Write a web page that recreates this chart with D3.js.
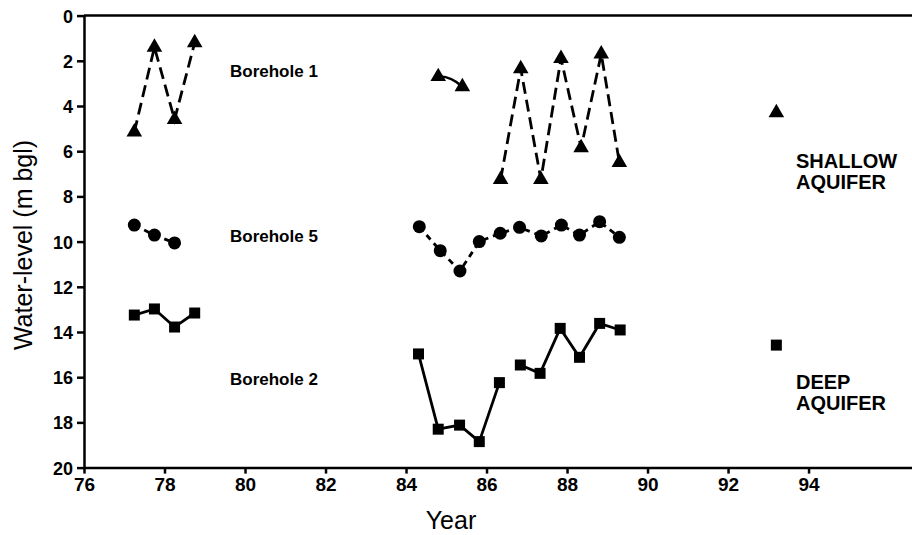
<!DOCTYPE html>
<html>
<head>
<meta charset="utf-8">
<script src="https://cdn.jsdelivr.net/npm/d3@7"></script>
<style>
  body { margin: 0; background: #fff; }
  svg { display: block; }
  .titulo { font-family: "Liberation Sans", Arial, sans-serif; font-size: 25px; fill: #000; }
  .etiqueta { font-family: "Liberation Sans", Arial, sans-serif; font-weight: bold; font-size: 17px; fill: #000; }
  .acuifero { font-family: "Liberation Sans", Arial, sans-serif; font-weight: bold; font-size: 20px; fill: #000; }
</style>
</head>
<body>
<div id="grafico"></div>
<script>
// Borehole 1 (shallow aquifer), triangles
var b1Years  = [77.25, 77.75, 78.25, 78.75, 84.8, 85.4, 86.35, 86.85, 87.35, 87.85, 88.35, 88.85, 89.3, 93.2];
var b1Levels = [5.15, 1.4, 4.6, 1.2, 2.7, 3.15, 7.25, 2.35, 7.25, 1.9, 5.85, 1.7, 6.5, 4.3];
var b1Runs   = [0, 0, 0, 0, 1, 1, 2, 2, 2, 2, 2, 2, 2, 3];

// Borehole 5, circles
var b5Years  = [77.25, 77.75, 78.25, 84.33, 84.85, 85.34, 85.82, 86.34, 86.82, 87.36, 87.86, 88.31, 88.81, 89.3];
var b5Levels = [9.27, 9.71, 10.06, 9.34, 10.4, 11.3, 10.0, 9.63, 9.37, 9.75, 9.27, 9.71, 9.12, 9.81];
var b5Runs   = [0, 0, 0, 1, 1, 1, 1, 1, 1, 1, 1, 1, 1, 1];

// Borehole 2 (deep aquifer), squares
var b2Years  = [77.25, 77.75, 78.25, 78.75, 84.31, 84.8, 85.33, 85.82, 86.32, 86.84, 87.33, 87.83, 88.31, 88.81, 89.32, 93.2];
var b2Levels = [13.25, 12.98, 13.78, 13.16, 14.97, 18.3, 18.12, 18.85, 16.24, 15.46, 15.83, 13.84, 15.12, 13.62, 13.91, 14.58];
var b2Runs   = [0, 0, 0, 0, 1, 1, 1, 1, 1, 2, 2, 2, 2, 2, 2, 3];

var xTicks = [76, 78, 80, 82, 84, 86, 88, 90, 92, 94];
var yTicks = [0, 2, 4, 6, 8, 10, 12, 14, 16, 18, 20];

var width = 912,
    height = 535;

var svg = d3.select("#grafico")
    .append("svg")
    .attr("width", width)
    .attr("height", height);

var x = d3.scaleLinear().domain([76, 96.57]).range([84, 912]);
var y = d3.scaleLinear().domain([0, 20]).range([15.6, 467.6]);

/************ Ejes ************/
function estiloEje(g, size) {
    g.selectAll("path, line").attr("stroke", "#000").attr("stroke-width", 2.5);
    g.selectAll("text")
        .style("font-family", "'Liberation Sans', Arial, sans-serif")
        .style("font-size", size + "px")
        .style("font-weight", "bold")
        .style("fill", "#000");
}

var ejeX = svg.append("g")
    .attr("transform", "translate(0," + y(20) + ")")
    .call(d3.axisBottom(x).tickValues(xTicks).tickSize(6).tickSizeOuter(0).tickPadding(2))
    .call(estiloEje, 19);
ejeX.selectAll("text").attr("dy", "0.8em");

var ejeY = svg.append("g")
    .attr("transform", "translate(" + x(76) + ",0)")
    .call(d3.axisLeft(y).tickValues(yTicks).tickSize(7).tickSizeOuter(0).tickPadding(4))
    .call(estiloEje, 18);
ejeY.selectAll("text").attr("dy", "0.36em");

// borde superior
svg.append("line")
    .attr("x1", x(76)).attr("x2", width)
    .attr("y1", y(0)).attr("y2", y(0))
    .attr("stroke", "#000").attr("stroke-width", 2.5);

/************ Series ************/
function juntar(years, levels, runs) {
    return years.map(function(d, i) { return {x: d, y: levels[i], run: runs[i]}; });
}

var linea = d3.line()
    .x(function(d) { return x(d.x); })
    .y(function(d) { return y(d.y); });

function dibujaSerie(datos, dash, curvas) {
    var grupos = d3.groups(datos, function(d) { return d.run; });
    grupos.forEach(function(g) {
        var pts = g[1];
        if (pts.length < 2) return;
        if (curvas.indexOf(g[0]) >= 0) {
            // tramo curvo continuo
            var p = d3.path();
            var a = pts[0], b = pts[1];
            p.moveTo(x(a.x), y(a.y));
            p.quadraticCurveTo((x(a.x) + x(b.x)) / 2, (y(a.y) + y(b.y)) / 2 - 6, x(b.x), y(b.y));
            svg.append("path").attr("d", p.toString())
                .attr("fill", "none").attr("stroke", "#000").attr("stroke-width", 2.5);
        } else {
            svg.append("path").attr("d", linea(pts))
                .attr("fill", "none").attr("stroke", "#000")
                .attr("stroke-width", 2.8)
                .attr("stroke-dasharray", dash);
        }
    });
}

var b1 = juntar(b1Years, b1Levels, b1Runs);
var b5 = juntar(b5Years, b5Levels, b5Runs);
var b2 = juntar(b2Years, b2Levels, b2Runs);

dibujaSerie(b1, "12,6", [1]);
dibujaSerie(b5, "6,5", []);
dibujaSerie(b2, null, []);

svg.selectAll(".tri").data(b1).enter().append("path")
    .attr("d", d3.symbol(d3.symbolTriangle, 105))
    .attr("transform", function(d) { return "translate(" + x(d.x) + "," + y(d.y) + ")"; })
    .attr("fill", "#000");

svg.selectAll(".cir").data(b5).enter().append("circle")
    .attr("cx", function(d) { return x(d.x); })
    .attr("cy", function(d) { return y(d.y); })
    .attr("r", 6.5)
    .attr("fill", "#000");

svg.selectAll(".sq").data(b2).enter().append("path")
    .attr("d", d3.symbol(d3.symbolSquare, 121))
    .attr("transform", function(d) { return "translate(" + x(d.x) + "," + y(d.y) + ")"; })
    .attr("fill", "#000");

/************ Textos ************/
function drawText(x0, y0, texto, clase, anchor, rot) {
    var t = svg.append("text")
        .attr("x", x0).attr("y", y0)
        .attr("class", clase)
        .style("text-anchor", anchor)
        .text(texto);
    if (rot) t.attr("transform", "rotate(" + rot + "," + x0 + "," + y0 + ")");
    return t;
}

drawText(451, 529, "Year", "titulo", "middle");
drawText(32, 245, "Water-level (m bgl)", "titulo", "middle", -90);

drawText(230, 77, "Borehole 1", "etiqueta", "start");
drawText(230, 242, "Borehole 5", "etiqueta", "start");
drawText(230, 385, "Borehole 2", "etiqueta", "start");

drawText(796, 168, "SHALLOW", "acuifero", "start");
drawText(796, 189, "AQUIFER", "acuifero", "start");
drawText(796, 389, "DEEP", "acuifero", "start");
drawText(796, 410, "AQUIFER", "acuifero", "start");
</script>
</body>
</html>
